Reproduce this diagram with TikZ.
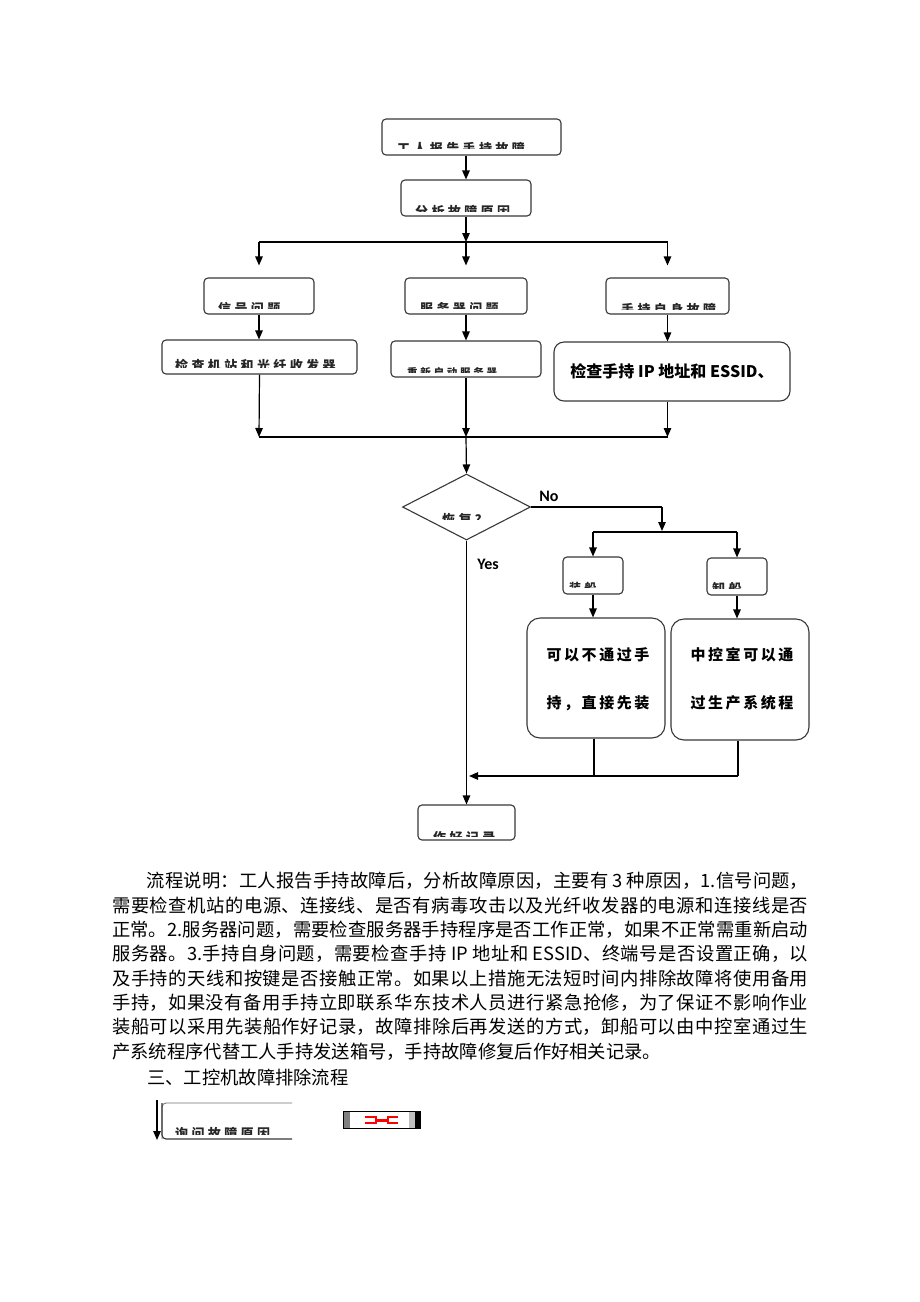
\documentclass[tikz,border=0pt]{standalone}
\usepackage{fontspec}
\usetikzlibrary{arrows.meta,shapes.geometric}
\newfontfamily\cjk{Noto Sans CJK SC}
\newfontfamily\cjksp{Noto Sans CJK SC}[LetterSpace=26]
\newfontfamily\cjkbig{Noto Sans CJK SC}[LetterSpace=17]
\newfontfamily\lat{Carlito}
\tikzset{
  box/.style={draw=black!78, line width=1.1pt, rounded corners=4pt, inner sep=0pt, fill=white},
  bigbox/.style={box, rounded corners=13pt},
  conn/.style={line width=1.2pt, black},
  arr/.style={conn, -{Triangle[length=9pt,width=7.5pt]}},
  clipt/.style={anchor=base west, inner sep=0pt, text=black!85},
  lbl/.style={inner sep=0pt, font=\lat\bfseries\fontsize{16}{16}\selectfont},
}
\newcommand\clabel[9]{\begin{scope}\clip (#2,#3) rectangle (#4,#5);
  \node[clipt,font=\cjksp\bfseries\fontsize{#8}{#8}\selectfont] (#1) at (#6,#7) {#9};\end{scope}}
\begin{document}
\begin{tikzpicture}[x=1pt,y=-1pt]
\fill[white] (0,0) rectangle (920,1302);
\useasboundingbox (0,0) rectangle (920,1302);

% ---- boxes
\node[box, minimum width=179pt, minimum height=36pt] (top) at (471.5,137) {};
\node[box, minimum width=130pt, minimum height=36pt] (ana) at (466,198) {};
\node[box, minimum width=110pt, minimum height=36pt] (sig) at (259,296) {};
\node[box, minimum width=122pt, minimum height=36pt] (srv) at (466,296) {};
\node[box, minimum width=123pt, minimum height=36pt] (self) at (667.5,296) {};
\node[box, minimum width=195pt, minimum height=34pt] (chk1) at (259.5,357) {};
\node[box, minimum width=150pt, minimum height=36pt] (rst) at (466,359) {};
\node[box, rounded corners=10pt, minimum width=236pt, minimum height=59pt,
      font=\cjk\bfseries\fontsize{16}{16}\selectfont] (chk3) at (672,371.5) {检查手持 IP 地址和 ESSID、};
\node[draw=black!78, line width=1.1pt, shape=diamond, inner sep=0pt,
      minimum width=128pt, minimum height=66pt] (dia) at (466.5,507) {};
\node[box, minimum width=60pt, minimum height=37pt] (load) at (593,575.5) {};
\node[box, minimum width=60pt, minimum height=37pt] (unload) at (737,576.5) {};
\node[bigbox, minimum width=138pt, minimum height=120pt] (big1) at (596,678) {};
\node[bigbox, minimum width=138pt, minimum height=121pt] (big2) at (740,679.5) {};
\node[box, minimum width=97pt, minimum height=35pt] (rec) at (466.5,822.5) {};

% big box texts
\node[inner sep=0pt, font=\cjkbig\bfseries\fontsize{15}{15}\selectfont] (b1a) at (598,655) {可以不通过手};
\node[inner sep=0pt, font=\cjkbig\bfseries\fontsize{15}{15}\selectfont] (b1b) at (598,703) {持，直接先装};
\node[inner sep=0pt, font=\cjkbig\bfseries\fontsize{15}{15}\selectfont] (b2a) at (742,655) {中控室可以通};
\node[inner sep=0pt, font=\cjkbig\bfseries\fontsize{15}{15}\selectfont] (b2b) at (742,703) {过生产系统程};

% clipped labels
\clabel{t1}{383}{120}{560}{148}{397}{153.4}{13}{工人报告手持故障}
\clabel{t2}{401}{181}{529}{211}{415}{216.4}{13}{分析故障原因}
\clabel{t3}{205}{279}{313}{308}{218}{313.4}{13}{信号问题}
\clabel{t4}{406}{279}{526}{308}{420}{313.4}{13}{服务器问题}
\clabel{t5}{607}{279}{728}{309}{621}{314.4}{13}{手持自身故障}
\clabel{t6}{163}{341}{356}{367}{175}{370.4}{13}{检查机站和光纤收发器}
\clabel{t7}{392}{342}{540}{372}{407}{376.2}{10.5}{重新启动服务器}
\clabel{t8}{420}{490}{515}{519}{442}{524.4}{13}{恢复？}
\clabel{t9}{564}{558}{622}{587}{569}{592.6}{12}{装船}
\clabel{t10}{707}{559}{765}{588}{712}{593.6}{13}{卸船}
\clabel{t11}{419}{806}{514}{836}{433}{842.4}{13}{作好记录}

% ---- connectors
\draw[arr] (top.south -| ana.north) -- (ana.north);
\coordinate (s2) at (466,242);
\coordinate (s1) at (259,242);
\coordinate (s3) at (667.5,242);
\draw[arr] (ana.south) -- (s2);
\draw[conn] (s1) -- (s3);
\draw[arr] (s1) -- ([yshift=12pt]sig.north);
\draw[arr] (s2) -- ([yshift=12pt]srv.north);
\draw[arr] (s3) -- ([yshift=12pt]self.north);
\draw[arr] (sig.south) -- (chk1.north -| sig.south);
\draw[arr] (srv.south) -- (rst.north -| srv.south);
\draw[arr] (self.south) -- (chk3.north -| self.south);
\coordinate (j1) at (259,437);
\coordinate (j2) at (466,437);
\coordinate (j3) at (667.5,437);
\draw[arr] (chk1.south) -- (j1);
\draw[arr] (rst.south) -- (j2);
\draw[arr] (chk3.south -| j3) -- (j3);
\draw[conn] (j1) -- (j3);
\draw[arr] (j2) -- (dia.north);

% No branch
\coordinate (n1) at (662,507);
\coordinate (n2) at (662,531);
\coordinate (n3) at (593,532);
\coordinate (n4) at (737,532);
\draw[conn] (dia.east) -- (n1);
\draw[arr] (n1) -- (n2);
\draw[conn] (n3) -- (n4);
\draw[arr] (n3) -- (load.north);
\draw[arr] (n4) -- (unload.north);
\draw[arr] (load.south) -- (load.south |- big1.north);
\draw[arr] (unload.south) -- (unload.south |- big2.north);
\coordinate (m1) at (594,776);
\coordinate (m2) at (738,776);
\coordinate (m3) at (469,776);
\draw[conn] (big1.south -| m1) -- (m1);
\draw[conn] (big2.south -| m2) -- (m2);
\draw[arr] (m2) -- (m3);
\draw[arr] (dia.south) -- (rec.north);

\node[lbl] (no) at (549,496) {No};
\node[lbl] (yes) at (488,564) {Yes};

% ---- paragraph
\node[anchor=north west, inner sep=0pt, text width=696pt, align=justify,
      font=\cjk\fontsize{18.3}{24.35}\selectfont] (para) at (112,872) {%
\XeTeXlinebreaklocale "zh"\XeTeXlinebreakskip=0pt plus 3pt minus 0.4pt\parindent=0pt
\hspace*{1.9em}流程说明：工人报告手持故障后，分析故障原因，主要有 3 种原因，1.信号问题，\linebreak
需要检查机站的电源、连接线、是否有病毒攻击以及光纤收发器的电源和连接线是否\linebreak
正常。2.服务器问题，需要检查服务器手持程序是否工作正常，如果不正常需重新启动\linebreak
服务器。3.手持自身问题，需要检查手持 IP 地址和 ESSID、终端号是否设置正确，以\linebreak
及手持的天线和按键是否接触正常。如果以上措施无法短时间内排除故障将使用备用\linebreak
手持，如果没有备用手持立即联系华东技术人员进行紧急抢修，为了保证不影响作业\linebreak
装船可以采用先装船作好记录，故障排除后再发送的方式，卸船可以由中控室通过生\linebreak
产系统程序代替工人手持发送箱号，手持故障修复后作好相关记录。\par};

\node[anchor=west, inner sep=0pt, font=\cjk\fontsize{18.3}{20}\selectfont] (head) at (147,1077) {三、工控机故障排除流程};

% ---- bottom fragment
\coordinate (q1) at (292,1103);
\coordinate (q2) at (162,1103);
\coordinate (q3) at (162,1139);
\coordinate (q4) at (292,1139);
\draw[black!55, line width=0.9pt, rounded corners=4pt] (q1) -- (q2) -- (q3);
\draw[black!78, line width=1.1pt, rounded corners=4pt] (q2) -- (q3) -- (q4);
\clabel{t12}{163}{1104}{291}{1134}{175}{1138.4}{13}{询问故障原因}
\coordinate (qa) at (157,1100);
\coordinate (qb) at (157,1140);
\draw[arr] (qa) -- (qb);

% small picture
\coordinate (g1) at (343,1111);
\coordinate (g2) at (420,1128);
\fill[white] (g1) rectangle (g2);
\fill[black!50] (343,1111) rectangle (350,1128);
\fill[black!25] (409,1111) rectangle (415,1128);
\fill[black] (415,1111) rectangle (420,1128);
\draw[black, line width=0.8pt] (g1) rectangle (g2);
\draw[red, line width=1.4pt] (365,1117) -- (376,1117) -- (376,1123) -- (365,1123);
\draw[red, line width=1.4pt] (398,1117) -- (388,1117) -- (388,1123) -- (398,1123);
\draw[red, line width=3pt] (376,1120) -- (388,1120);
\end{tikzpicture}
\end{document}
